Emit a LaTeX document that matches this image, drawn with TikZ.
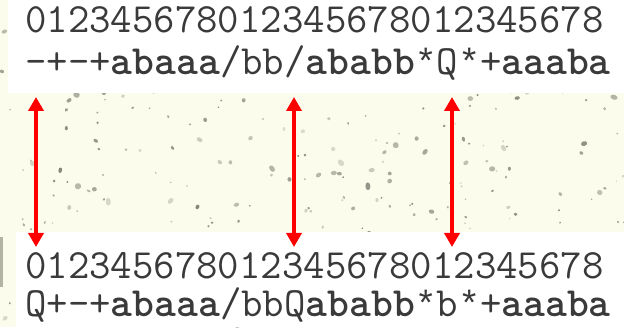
\documentclass[tikz,border=0pt]{standalone}
\usepackage{fontspec}
\usetikzlibrary{arrows.meta}
\definecolor{paper}{RGB}{252,252,236}
\definecolor{ink}{RGB}{58,58,58}
\definecolor{speck}{RGB}{105,105,95}
% high-set asterisk taken from a Courier-metric face, same advance as the text
\newfontfamily\starface{Liberation Mono}
\newcommand\hstar{{\starface\fontsize{36.4}{44}\selectfont *}}
\tikzset{
  seqline/.style={anchor=base west, inner sep=0pt, text=ink,
    font=\ttfamily\fontsize{41.6}{44}\selectfont},
  link/.style={draw=red, line width=4.6pt,
    {Triangle[width=15pt,length=14pt]}-{Triangle[width=15pt,length=14pt]}},
  panel/.style={fill=white, draw=none}
}
\begin{document}
\begin{tikzpicture}[x=1pt,y=1pt]
  % speckled paper background
  \fill[paper] (0,0) rectangle (624,327);
  \useasboundingbox (0,0) rectangle (624,327);
  \pgfmathsetseed{4711}
  \foreach \i in {1,...,380}{
    \pgfmathsetmacro\px{rnd*624}
    \pgfmathsetmacro\py{rnd*327}
    \pgfmathsetmacro\pr{0.8+2.4*rnd*rnd}
    \pgfmathsetmacro\po{0.2+0.6*rnd}
    \pgfmathsetmacro\pa{rnd*180}
    \fill[speck, opacity=\po, rotate around={\pa:(\px,\py)}]
      (\px,\py) ellipse ({\pr*(0.9+0.7*rnd)} and \pr);
  }
  \fill[speck, opacity=0.5] (0,40) rectangle (2.5,90);

  % white panels carrying the two sequences
  \fill[panel] (8,234) rectangle (624,327);
  \fill[panel] (16,0) rectangle (624,95);

  % upper sequence with its position ruler
  \node[seqline] (d1) at (25,294) {012345678012345678012345678};
  \node[seqline] (s1) at (25,252) {-+-+\textbf{abaaa}/bb/\textbf{ababb}\hstar Q\hstar+\textbf{aaaba}};

  % lower sequence with its position ruler
  \node[seqline] (d2) at (25,49) {012345678012345678012345678};
  \node[seqline] (s2) at (25,11) {Q+-+\textbf{abaaa}/bbQ\textbf{ababb}\hstar b\hstar+\textbf{aaaba}};

  % ends of the links between corresponding columns
  \coordinate (p0) at (36,230);
  \coordinate (q0) at (36,80);
  \coordinate (p12) at (294,230);
  \coordinate (q12) at (294,80);
  \coordinate (p19) at (452,230);
  \coordinate (q19) at (452,80);

  \draw[link] (p0) -- (q0);
  \draw[link] (p12) -- (q12);
  \draw[link] (p19) -- (q19);
\end{tikzpicture}
\end{document}
